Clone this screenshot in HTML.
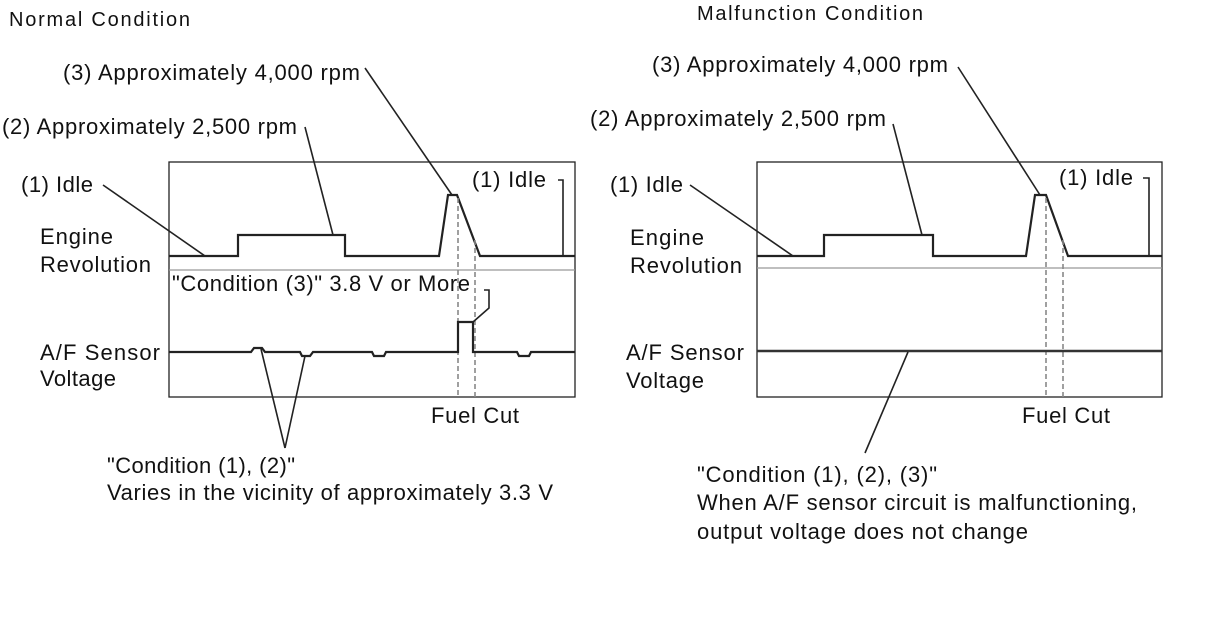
<!DOCTYPE html>
<html><head><meta charset="utf-8"><style>
html,body{margin:0;padding:0;background:#fff;width:1214px;height:636px;overflow:hidden}
text{font-family:"Liberation Sans",Arial,sans-serif;font-size:22px;fill:#111}
</style></head><body>
<svg width="1214" height="636" viewBox="0 0 1214 636" xmlns="http://www.w3.org/2000/svg">
<g fill="none" stroke="#222" stroke-width="1.6">
<rect x="169" y="162" width="406" height="235" stroke-width="1.3"/>
<line x1="169" y1="270" x2="575" y2="270" stroke="#999" stroke-width="1.2"/>
<polyline stroke-width="2.2" points="169,256 238,256 238,235 345,235 345,256 439,256 448,195 457,195 480,256 575,256"/>
<polyline points="558,180 563,180 563,256"/>
<line x1="458" y1="198" x2="458" y2="397" stroke="#888" stroke-dasharray="5,3"/>
<line x1="475" y1="240" x2="475" y2="397" stroke="#888" stroke-dasharray="5,3"/>
<polyline stroke-width="2.2" points="169,352 251,352 254,348 262,348 265,352 300,352 302,356 310,356 313,352 372,352 374,356 384,356 386,352 458,352 458,322 473,322 473,352 517,352 519,356 529,356 531,352 575,352"/>
<polyline points="473,322 489,308 489,290 484,290"/>
<line x1="103" y1="185" x2="205" y2="256"/>
<line x1="305" y1="127" x2="333" y2="235"/>
<line x1="365" y1="68" x2="452" y2="195"/>
<line x1="285" y1="448" x2="261" y2="349"/>
<line x1="285" y1="448" x2="305" y2="356"/>
<rect x="757" y="162" width="405" height="235" stroke-width="1.3"/>
<line x1="757" y1="268" x2="1162" y2="268" stroke="#999" stroke-width="1.2"/>
<polyline stroke-width="2.2" points="757,256 824,256 824,235 933,235 933,256 1026,256 1035,195 1046,195 1068,256 1162,256"/>
<polyline points="1143,178 1149,178 1149,256"/>
<line x1="1046" y1="198" x2="1046" y2="397" stroke="#888" stroke-dasharray="5,3"/>
<line x1="1063" y1="240" x2="1063" y2="397" stroke="#888" stroke-dasharray="5,3"/>
<line x1="757" y1="351" x2="1162" y2="351" stroke-width="2.6" stroke="#333"/>
<line x1="690" y1="185" x2="793" y2="256"/>
<line x1="893" y1="124" x2="922" y2="235"/>
<line x1="958" y1="67" x2="1040" y2="195"/>
<line x1="865" y1="453" x2="908" y2="352"/>
</g>
<text x="9" y="26" style="font-size:20px" textLength="181" lengthAdjust="spacing">Normal Condition</text>
<text x="63" y="80" textLength="297" lengthAdjust="spacing">(3) Approximately 4,000 rpm</text>
<text x="2" y="134" textLength="295" lengthAdjust="spacing">(2) Approximately 2,500 rpm</text>
<text x="21" y="192" textLength="72" lengthAdjust="spacing">(1) Idle</text>
<text x="472" y="187" textLength="74" lengthAdjust="spacing">(1) Idle</text>
<text x="40" y="244" textLength="73" lengthAdjust="spacing">Engine</text>
<text x="40" y="272" textLength="111" lengthAdjust="spacing">Revolution</text>
<text x="172" y="291" textLength="298" lengthAdjust="spacing">"Condition (3)" 3.8 V or More</text>
<text x="40" y="360" textLength="120" lengthAdjust="spacing">A/F Sensor</text>
<text x="40" y="386" textLength="76" lengthAdjust="spacing">Voltage</text>
<text x="431" y="423" textLength="88" lengthAdjust="spacing">Fuel Cut</text>
<text x="107" y="473" textLength="188" lengthAdjust="spacing">"Condition (1), (2)"</text>
<text x="107" y="500" textLength="446" lengthAdjust="spacing">Varies in the vicinity of approximately 3.3 V</text>
<text x="697" y="20" style="font-size:20px" textLength="226" lengthAdjust="spacing">Malfunction Condition</text>
<text x="652" y="72" textLength="296" lengthAdjust="spacing">(3) Approximately 4,000 rpm</text>
<text x="590" y="126" textLength="296" lengthAdjust="spacing">(2) Approximately 2,500 rpm</text>
<text x="610" y="192" textLength="73" lengthAdjust="spacing">(1) Idle</text>
<text x="1059" y="185" textLength="74" lengthAdjust="spacing">(1) Idle</text>
<text x="630" y="245" textLength="74" lengthAdjust="spacing">Engine</text>
<text x="630" y="273" textLength="112" lengthAdjust="spacing">Revolution</text>
<text x="626" y="360" textLength="118" lengthAdjust="spacing">A/F Sensor</text>
<text x="626" y="388" textLength="78" lengthAdjust="spacing">Voltage</text>
<text x="1022" y="423" textLength="88" lengthAdjust="spacing">Fuel Cut</text>
<text x="697" y="482" textLength="240" lengthAdjust="spacing">"Condition (1), (2), (3)"</text>
<text x="697" y="510" textLength="440" lengthAdjust="spacing">When A/F sensor circuit is malfunctioning,</text>
<text x="697" y="539" textLength="331" lengthAdjust="spacing">output voltage does not change</text>
</svg>
</body></html>
